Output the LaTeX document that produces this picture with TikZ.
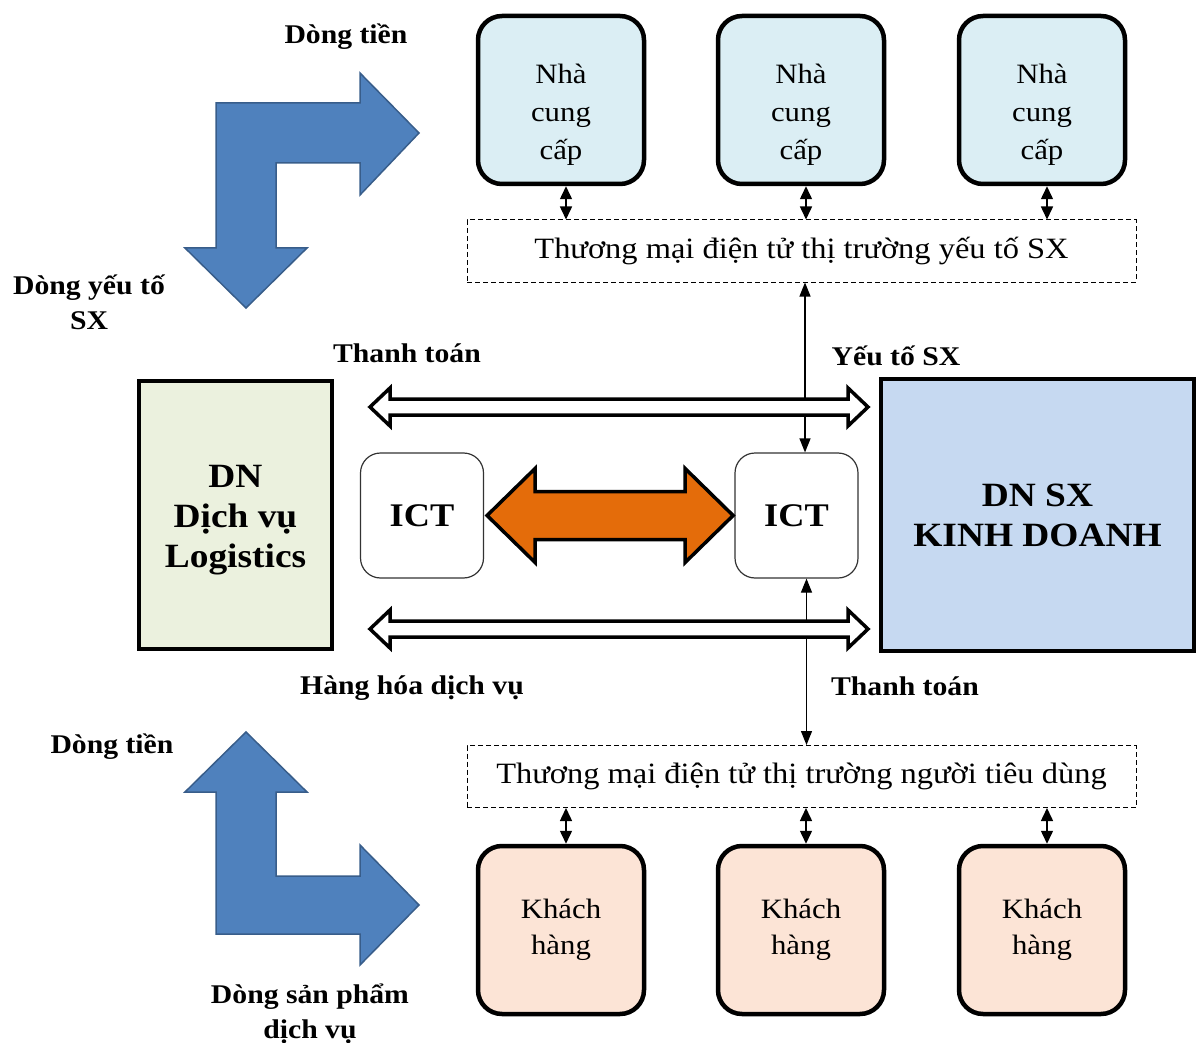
\documentclass[tikz,border=0pt]{standalone}
\usepackage{fontspec}
\setmainfont{Liberation Serif}[FakeStretch=1.1]
\usetikzlibrary{arrows.meta,calc}
\definecolor{supfill}{HTML}{DBEEF4}
\definecolor{cusfill}{HTML}{FCE4D6}
\definecolor{logfill}{HTML}{EBF1DE}
\definecolor{dnfill}{HTML}{C6D9F1}
\definecolor{flowblue}{HTML}{4F81BD}
\definecolor{flowedge}{HTML}{385D8A}
\definecolor{ictorange}{HTML}{E46C0A}
\begin{document}
\begin{tikzpicture}[x=1pt,y=-1pt,
  partybox/.style={draw, line width=4.5pt, rounded corners=24pt,
    minimum width=166pt, minimum height=168pt, align=center,
    font=\fontsize{28}{38}\selectfont},
  supbox/.style={partybox, fill=supfill},
  cusbox/.style={partybox, fill=cusfill, font=\fontsize{28}{36}\selectfont},
  bigbox/.style={draw, line width=4.5pt, align=center,
    font=\bfseries\fontsize{34}{40}\selectfont},
  ictbox/.style={draw=black!80, line width=1.2pt, rounded corners=20pt, fill=white,
    minimum width=123pt, minimum height=125pt, font=\bfseries\fontsize{33}{40}\selectfont},
  ecbox/.style={draw, line width=1pt, dash pattern=on 5pt off 3pt,
    minimum width=669pt, minimum height=62pt, font=\fontsize{29.5}{36}\selectfont},
  lbl/.style={font=\bfseries\fontsize{27}{35}\selectfont, align=center, inner sep=0pt},
  sconn/.style={line width=1.5pt, {Triangle[width=12pt,length=13pt]}-{Triangle[width=12pt,length=13pt]}},
  vconn/.style={line width=1.2pt, {Triangle[width=11pt,length=14pt]}-{Triangle[width=11pt,length=14pt]}},
  flow/.style={fill=flowblue, draw=flowedge, line width=1.5pt, line join=miter},
  hollow/.style={fill=white, draw=black, line width=3.5pt, line join=miter},
  ictlink/.style={fill=ictorange, draw=black, line width=3.5pt, line join=miter}
]
\useasboundingbox (0,0) rectangle (1197,1043);

% suppliers (the strut lowers the three lines inside the box)
\node[supbox] (s1) at (561,100) {\rule{0pt}{49pt}Nhà\\cung\\cấp};
\node[supbox] (s2) at (801,100) {\rule{0pt}{49pt}Nhà\\cung\\cấp};
\node[supbox] (s3) at (1042,100) {\rule{0pt}{49pt}Nhà\\cung\\cấp};

% e-commerce markets
\node[ecbox] (ec1) at (801.5,251) {Thương mại điện tử thị trường yếu tố SX};
\node[ecbox] (ec2) at (801.5,776.5) {Thương mại điện tử thị trường người tiêu dùng};

% customers
\node[cusbox] (c1) at (561,930) {Khách\\hàng};
\node[cusbox] (c2) at (801,930) {Khách\\hàng};
\node[cusbox] (c3) at (1042,930) {Khách\\hàng};

% enterprises
\node[bigbox, fill=logfill, minimum width=193pt, minimum height=268pt] (log) at (235.5,515) {\rule{0pt}{32pt}DN\\Dịch vụ\\Logistics};
\node[bigbox, fill=dnfill, minimum width=313pt, minimum height=272pt] (dn) at (1037.5,515) {DN SX\\KINH DOANH};

% ICT platforms
\node[ictbox] (ictL) at (422,515.5) {ICT};
\node[ictbox] (ictR) at (796.5,515.5) {ICT};

% supplier / customer links to the markets
\foreach \n in {1,2,3} {
  \draw[sconn] ([xshift=5pt]s\n.south) -- ([xshift=5pt]s\n.south |- ec1.north);
  \draw[sconn] ([xshift=5pt]c\n.north |- ec2.south) -- ([xshift=5pt]c\n.north);
}

% market links to ICT
\draw[vconn] ([xshift=8.5pt]ictR.north |- ec1.south) -- ([xshift=8.5pt]ictR.north);
\draw[vconn] ([xshift=10pt]ictR.south) -- ([xshift=10pt]ictR.south |- ec2.north);

% ICT exchange arrow
\draw[ictlink] ($(ictL.east)+(3,0)$) -- ++(48,-47) -- ++(0,23) -- ++(150,0) -- ++(0,-23)
  -- ++(48,47) -- ++(-48,47) -- ++(0,-23) -- ++(-150,0) -- ++(0,23) -- cycle;

% payment and goods flows
\draw[hollow] (370,407) -- ++(20,-19) -- ++(0,11) -- ++(458,0) -- ++(0,-11) -- ++(20,19)
  -- ++(-20,19) -- ++(0,-11) -- ++(-458,0) -- ++(0,11) -- cycle;
\draw[hollow] (370,629) -- ++(20,-19) -- ++(0,11) -- ++(458,0) -- ++(0,-11) -- ++(20,19)
  -- ++(-20,19) -- ++(0,-11) -- ++(-458,0) -- ++(0,11) -- cycle;

% flow arrows on the left
\draw[flow] (216,103) -- (360,103) -- (360,73) -- (419,133) -- (360,195) -- (360,163)
  -- (276,163) -- (276,248) -- (307,248) -- (246,308) -- (185,248) -- (216,248) -- cycle;
\draw[flow] (246,732) -- (307,792) -- (276,792) -- (276,876) -- (360,876) -- (360,845)
  -- (419,905) -- (360,965) -- (360,934) -- (216,934) -- (216,792) -- (185,792) -- cycle;

% labels
\node[lbl] (l1) at (346,37) {Dòng tiền};
\node[lbl] (l2) at (89,302) {Dòng yếu tố\\SX};
\node[lbl] (l3) at (407,353) {Thanh toán};
\node[lbl] (l4) at (896,356) {Yếu tố SX};
\node[lbl] (l5) at (412,688) {Hàng hóa dịch vụ};
\node[lbl] (l6) at (905,686) {Thanh toán};
\node[lbl] (l7) at (112,747) {Dòng tiền};
\node[lbl] (l8) at (310,1014) {Dòng sản phẩm\\dịch vụ};
\end{tikzpicture}
\end{document}
